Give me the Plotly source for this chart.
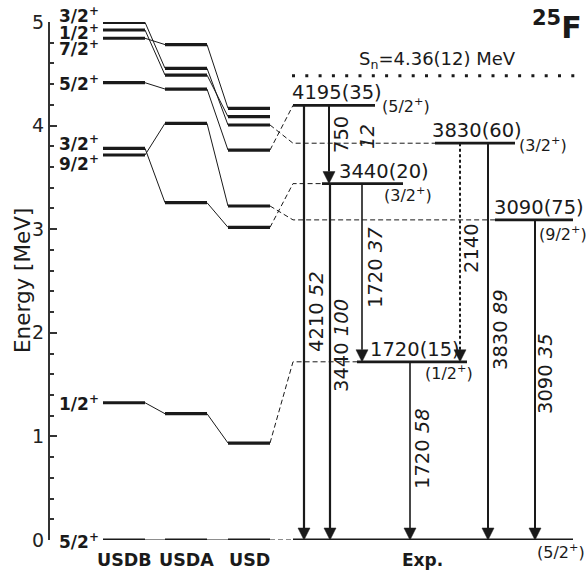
import plotly.graph_objects as go

# ---------------- data ----------------
# shell-model states of 25F (MeV), same state order in every column
spins = ["5/2", "1/2", "9/2", "3/2", "5/2", "7/2", "1/2", "3/2"]
usdb = [0.0, 1.325, 3.716, 3.781, 4.414, 4.843, 4.923, 4.997]
usda = [0.0, 1.219, 4.022, 3.256, 4.353, 4.782, 4.488, 4.553]
usd = [0.0, 0.936, 3.224, 3.018, 3.764, 4.167, 4.086, 4.006]
# experimental level each calculated state is associated with (-1: none)
exp_link = [0, 1, 2, 3, 5, -1, -1, 4]

# experimental levels
exp_energy = [0.0, 1.720, 3.090, 3.440, 3.830, 4.195]   # MeV
exp_err = ["", "15", "75", "20", "60", "35"]             # keV
exp_spin = ["5/2", "1/2", "9/2", "3/2", "3/2", "5/2"]

# gamma transitions: initial level, final level, energy (keV), relative intensity
gamma_from = [5, 5, 3, 3, 4, 4, 2, 1]
gamma_to = [0, 3, 0, 1, 1, 0, 0, 0]
gamma_kev = [4210, 750, 3440, 1720, 2140, 3830, 3090, 1720]
gamma_int = ["52", "12", "100", "37", "", "89", "35", "58"]
gamma_tentative = [False, False, False, False, True, False, False, False]

# neutron separation energy (MeV)
sn, sn_err = 4.36, 0.12

column_names = ["USDB", "USDA", "USD"]

# ---------------- layout constants ----------------
W, H = 586, 573
M_L, M_R, M_T, M_B = 50, 0, 22, 33
E_MAX = 5
PPM = (H - M_T - M_B) / E_MAX          # pixels per MeV
INK = "#1a1a1a"
FONT = "DejaVu Sans"
LBL = 19.5                              # level / transition label size


def e_at(ypx):
    """Energy value that sits at a given pixel row of the page."""
    return (H - M_B - ypx) / PPM


def paper_x(xpx):
    return (xpx - M_L) / (W - M_L - M_R)


def paper_y(ypx):
    return (H - M_B - ypx) / (H - M_T - M_B)


col_x = [(103, 145), (165, 207), (228, 270)]
exp_x0 = 293
exp_x = [(293, 573), (357, 467), (495, 573), (322, 403), (435, 515), (293, 375)]
gamma_x = [304, 329, 330, 362, 460, 488, 535, 410]
gamma_w = [2.2, 2.0, 2.2, 1.6, 2.0, 2.0, 2.0, 1.6]
gamma_lab = [(316, 312), (341, 135), (341, 346), (375, 268), (471, 248),
             (500, 330), (545, 374), (422, 449)]
gamma_int_split = {1: (367, 137)}   # intensity printed beside the energy
theo_lab_shift = [-1, 0, -8, 5, 0, -10, -2, 7]
exp_lab_x = [None, 368, 492, 337, 430, 290]
exp_spin_pos = [(535, -11), (423, -11), (537, -14), (382, -11), (517, -1), (380, 0)]
HEAD_H, HEAD_W = 12, 6

fig = go.Figure()


def seg_trace(xs, ys, width, dash=None, color=INK):
    fig.add_trace(go.Scatter(x=xs, y=ys, mode="lines",
                             line=dict(color=color, width=width, dash=dash),
                             hoverinfo="skip", showlegend=False))


# calculated levels and the thin lines joining the same state
columns = [usdb, usda, usd]
lx, ly, cx, cy = [], [], [], []
for ci, col in enumerate(columns):
    x0, x1 = col_x[ci]
    for e in col:
        lx += [x0, x1, None]
        ly += [e, e, None]
    if ci > 0:
        px1 = col_x[ci - 1][1]
        for e_prev, e in zip(columns[ci - 1], col):
            cx += [px1, x0, None]
            cy += [e_prev, e, None]
seg_trace(cx, cy, 1.0)
seg_trace(lx, ly, 3.2)

# dashed links from USD to experiment
dx, dy = [], []
for i, link in enumerate(exp_link):
    if link < 0:
        continue
    e_exp = exp_energy[link]
    dx += [col_x[2][1], exp_x0]
    dy += [usd[i], e_exp]
    if exp_x[link][0] > exp_x0:
        dx += [exp_x[link][0]]
        dy += [e_exp]
    dx += [None]
    dy += [None]
seg_trace(dx, dy, 1.0, dash="5px,3px")

# experimental levels
ex, ey = [], []
for e, (x0, x1) in zip(exp_energy, exp_x):
    ex += [x0, x1, None]
    ey += [e, e, None]
seg_trace(ex, ey, 2.8)

# neutron threshold (drawn at the upper edge of its uncertainty)
sn_line = sn + sn_err
seg_trace([292, 584], [sn_line, sn_line], 3, dash="3px,10.3px")

# gamma-ray arrows
head_e = HEAD_H / PPM
for k in range(len(gamma_kev)):
    x = gamma_x[k]
    e0 = exp_energy[gamma_from[k]]
    e1 = exp_energy[gamma_to[k]]
    seg_trace([x, x], [e0, e1 + head_e], gamma_w[k],
              dash="3px,2.5px" if gamma_tentative[k] else None)
    fig.add_trace(go.Scatter(
        x=[x - HEAD_W, x + HEAD_W, x, x - HEAD_W],
        y=[e1 + head_e, e1 + head_e, e1, e1 + head_e],
        mode="lines", fill="toself", fillcolor=INK,
        line=dict(color=INK, width=0.5), hoverinfo="skip", showlegend=False))

ann = []


def text(x, y, s, size, **kw):
    d = dict(x=x, y=y, xref="x", yref="y", text=s, showarrow=False,
             font=dict(family=FONT, size=size, color=INK))
    d.update(kw)
    ann.append(d)


def text_px(xpx, ypx, s, size, xanchor="center", yanchor="middle", **kw):
    """Text placed outside the axis range, given in page pixels."""
    text(paper_x(xpx), paper_y(ypx), s, size, xref="paper", yref="paper",
         xanchor=xanchor, yanchor=yanchor, **kw)


# spin labels of the calculated states
for i, sp in enumerate(spins):
    text(101, usdb[i], f"<b>{sp}<sup>+</sup></b>", 17, xanchor="right",
         yanchor="middle", yshift=theo_lab_shift[i])

# column names
for name, (x0, x1) in zip(column_names, col_x):
    text_px((x0 + x1) / 2, 560, f"<b>{name}</b>", 17.5)
text_px(422, 560, "<b>Exp.</b>", 17)

# experimental level labels
for i, e in enumerate(exp_energy):
    if exp_lab_x[i] is not None:
        text(exp_lab_x[i], e, f"{round(e * 1000)}({exp_err[i]})", LBL,
             xanchor="left", yanchor="bottom", yshift=-1)
    sx, sh = exp_spin_pos[i]
    text(sx, e, f"({exp_spin[i]}<sup>+</sup>)", 16, xanchor="left",
         yanchor="middle", yshift=sh)

# gamma labels
for k in range(len(gamma_kev)):
    gx, gy = gamma_lab[k]
    if k in gamma_int_split:
        s = f"{gamma_kev[k]}"
        ix, iy = gamma_int_split[k]
        text(ix, e_at(iy), f"<i>{gamma_int[k]}</i>", LBL, textangle=-90)
    elif gamma_int[k]:
        s = f"{gamma_kev[k]} <i>{gamma_int[k]}</i>"
    else:
        s = f"{gamma_kev[k]}"
    text(gx, e_at(gy), s, LBL, textangle=-90)

# neutron separation energy label
text(437, sn_line, f"S<sub>n</sub>={sn:.2f}({round(sn_err * 100)}) MeV", 18,
     yanchor="bottom", yshift=2)

# nucleus
text_px(584, 26, "<b><sup>25</sup>F</b>", 30, xanchor="right")

# axis title
text_px(22, 281, "Energy [MeV]", 21.5, textangle=-90)

fig.update_layout(
    width=W, height=H,
    margin=dict(l=M_L, r=M_R, t=M_T, b=M_B),
    paper_bgcolor="white", plot_bgcolor="white",
    annotations=ann,
    xaxis=dict(range=[M_L, W - M_R], showticklabels=False, ticks="",
               showline=False, showgrid=False, zeroline=False, fixedrange=True),
    yaxis=dict(range=[0, E_MAX], showline=True, linecolor="#333", linewidth=2,
               ticks="inside", ticklen=7, tickwidth=1.5, tickcolor="#333",
               dtick=1, tickfont=dict(family=FONT, size=19, color="#222"),
               minor=dict(dtick=0.2, ticks="inside", ticklen=4, tickwidth=1.5,
                          tickcolor="#333"),
               showgrid=False, zeroline=False, fixedrange=True),
)

fig.write_html("out.html")
